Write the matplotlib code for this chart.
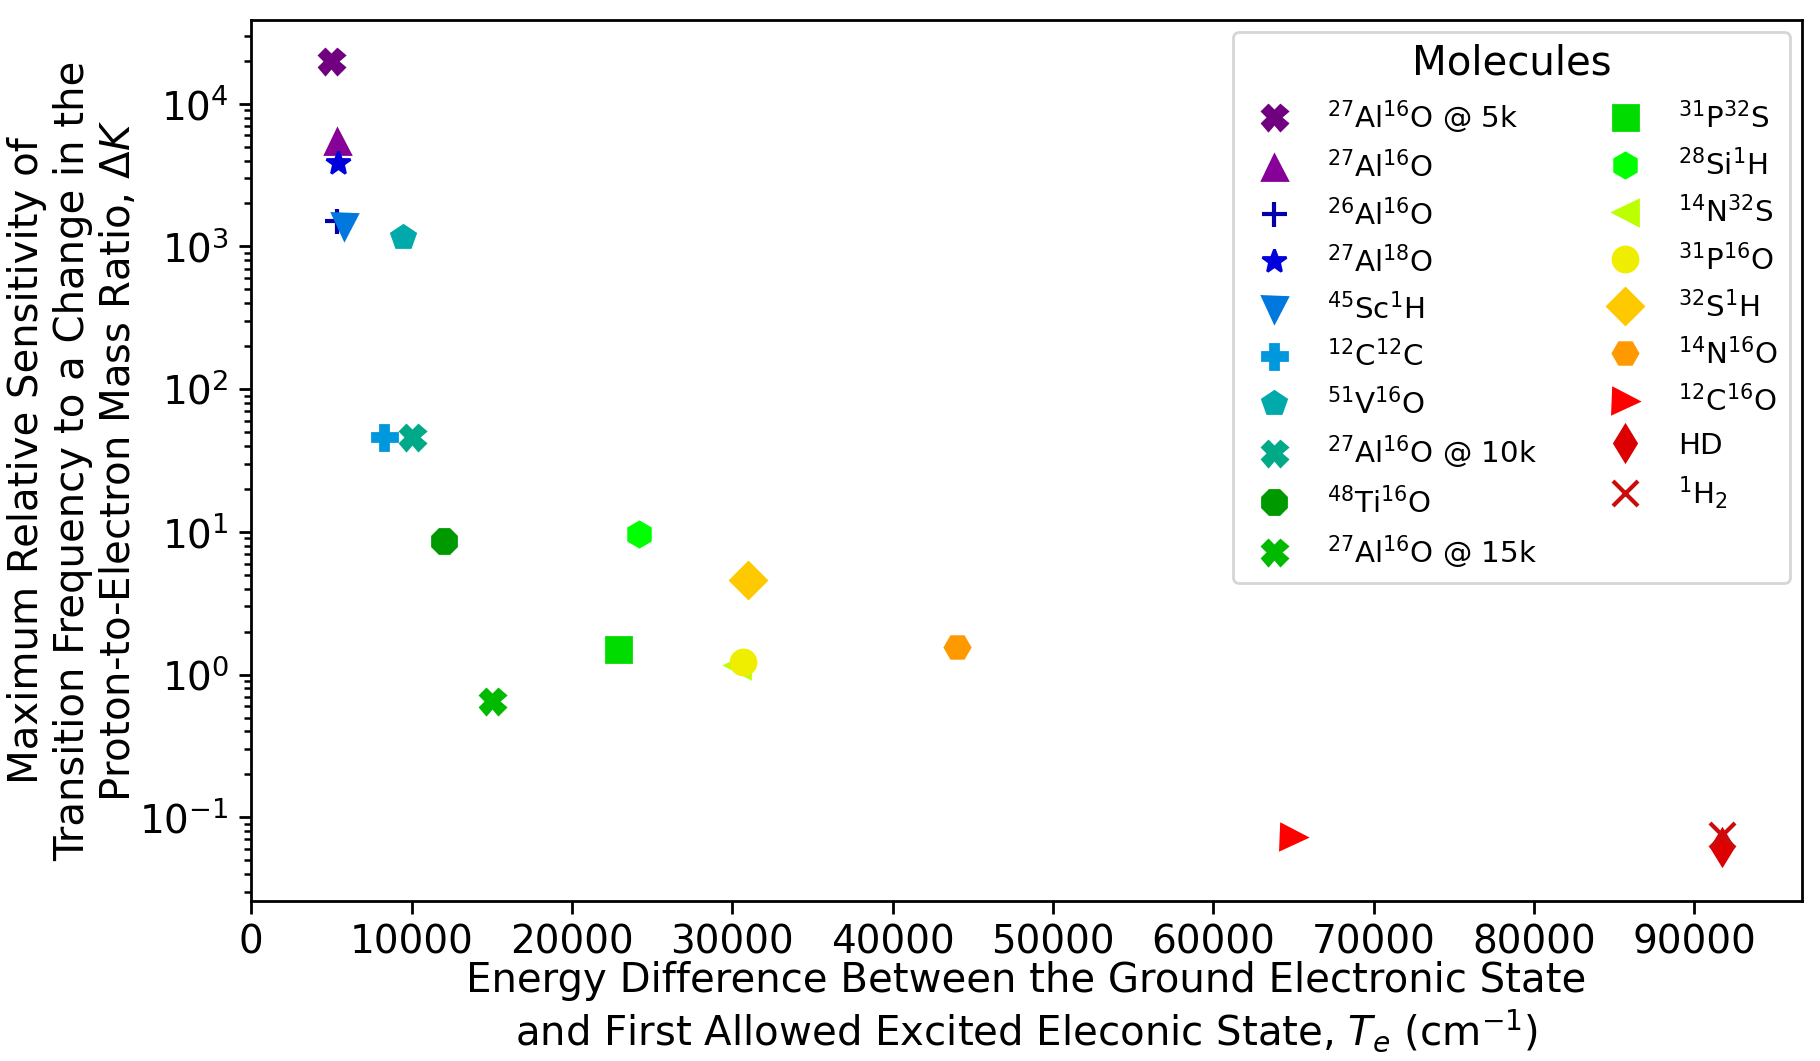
import numpy as np
import matplotlib
matplotlib.use('Agg')
import matplotlib.pyplot as plt
from matplotlib.ticker import MultipleLocator

# molecules, in legend order
labels = [
    r'$^{27}$Al$^{16}$O @ 5k',
    r'$^{27}$Al$^{16}$O',
    r'$^{26}$Al$^{16}$O',
    r'$^{27}$Al$^{18}$O',
    r'$^{45}$Sc$^{1}$H',
    r'$^{12}$C$^{12}$C',
    r'$^{51}$V$^{16}$O',
    r'$^{27}$Al$^{16}$O @ 10k',
    r'$^{48}$Ti$^{16}$O',
    r'$^{27}$Al$^{16}$O @ 15k',
    r'$^{31}$P$^{32}$S',
    r'$^{28}$Si$^{1}$H',
    r'$^{14}$N$^{32}$S',
    r'$^{31}$P$^{16}$O',
    r'$^{32}$S$^{1}$H',
    r'$^{14}$N$^{16}$O',
    r'$^{12}$C$^{16}$O',
    'HD',
    r'$^{1}$H$_{2}$',
]
Te = [5000, 5360, 5360, 5400, 5800, 8300, 9500, 10000, 12000, 15000,
      22900, 24200, 30300, 30700, 31000, 44000, 65000, 91700, 91700]
dK = [20000, 5500, 1500, 3850, 1400, 46, 1160, 46, 8.6, 0.65,
      1.52, 9.6, 1.16, 1.22, 4.6, 1.57, 0.073, 0.0615, 0.075]
markers = ['X', '^', '+', '*', 'v', 'P', 'p', 'X', '8', 'X',
           's', 'h', '<', 'o', 'D', 'H', '>', 'd', 'x']

colors = plt.cm.nipy_spectral(np.linspace(0.05, 0.95, len(labels)))

fig = plt.figure(figsize=(9.1, 5.305), dpi=200)
ax = fig.add_subplot(111)
fig.subplots_adjust(left=0.138, right=0.990, top=0.981, bottom=0.151)

for i in range(len(labels)):
    mew = 1.5 if markers[i] in ('+', 'x') else 1.0
    ax.plot(Te[i], dK[i], marker=markers[i], linestyle='none', color=colors[i],
            markersize=9, markeredgewidth=mew, label=labels[i])

ax.set_yscale('log')
ax.set_xlim(0, 96700)
ax.set_ylim(0.026, 38500)
ax.xaxis.set_major_locator(MultipleLocator(10000))
ax.tick_params(labelsize=14, width=1.0)
ax.tick_params(which='major', length=4.5)
ax.tick_params(which='minor', length=2.5, width=0.9)
for s in ax.spines.values():
    s.set_linewidth(1.0)

ax.set_xlabel('Energy Difference Between the Ground Electronic State\n'
              'and First Allowed Excited Eleconic State, $T_e$ (cm$^{-1}$)',
              fontsize=14.5, labelpad=0)
ax.set_ylabel('Maximum Relative Sensitivity of\n'
              'Transition Frequency to a Change in the\n'
              r'Proton-to-Electron Mass Ratio, $\Delta K$', fontsize=14.5,
              labelpad=0)

leg = ax.legend(loc='upper right', ncol=2, title='Molecules', fontsize=10.6,
                title_fontsize=14.5, labelspacing=0.5, handletextpad=0.8,
                borderaxespad=0.4)

fig.savefig('out.png', dpi=200)
